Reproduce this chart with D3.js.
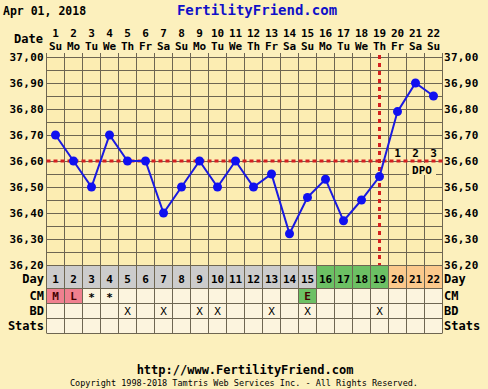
<!DOCTYPE html>
<html><head><meta charset="utf-8">
<script src="https://cdn.jsdelivr.net/npm/d3@7"></script>
<style>
html,body{margin:0;padding:0;background:#fcf0bd;}
svg{display:block;}
text{font-family:"DejaVu Sans Mono",monospace;font-weight:bold;fill:#000;}
</style></head><body>
<svg id="c" width="488" height="389"></svg>
<script>
const days = d3.range(1, 23);
const weekdays = ["Su","Mo","Tu","We","Th","Fr","Sa","Su","Mo","Tu","We","Th","Fr","Sa","Su","Mo","Tu","We","Th","Fr","Sa","Su"];
const temps = [36.70,36.60,36.50,36.70,36.60,36.60,36.40,36.50,36.60,36.50,36.60,36.50,36.55,36.32,36.46,36.53,36.37,36.45,36.54,36.79,36.90,36.85];
const yTicks = [36.20,36.30,36.40,36.50,36.60,36.70,36.80,36.90,37.00];
const dayPhase = ["g","g","g","g","g","g","g","g","g","g","g","g","g","g","g","f","f","f","f","o","o","o"];
const cm = ["M","L","*","*","","","","","","","","","","","E","","","","","","",""];
const cmPhase = ["p","p","","","","","","","","","","","","","f","","","","","","",""];
const bd = ["","","","","X","","X","","X","X","","","X","","X","","","","X","","",""];
const coverline = 36.60;
const ovulationDay = 19;
const dpo = [{day:20,label:"1"},{day:21,label:"2"},{day:22,label:"3"}];
const fill = {g:"#cccccc", f:"#6cc064", o:"#fcc98c", p:"#f0808f", "":"#fcf4de"};

(function(){
const svg = d3.select("#c");
const L = 46.5, colW = 18, T = 57, B = 265;
const x = d3.scaleBand().domain(days).range([L, L + colW*22]);
const y = d3.scaleLinear().domain([36.2, 37.0]).range([B, T]);
const R = L + colW*22;
const grid = "#6e6652";
const fs = 11;

// header
svg.append("text").attr("x",3).attr("y",15).attr("font-size",11.5).text("Apr 01, 2018");
svg.append("text").attr("x",257).attr("y",15).attr("font-size",14).attr("text-anchor","middle").style("fill","#1010c8").text("FertilityFriend.com");
svg.append("text").attr("x",43).attr("y",43).attr("font-size",12).attr("text-anchor","end").text("Date");
svg.selectAll(".dn").data(days).join("text").attr("x",d=>x(d)+colW/2).attr("y",37).attr("font-size",fs).attr("text-anchor","middle").text(d=>d);
svg.selectAll(".wd").data(days).join("text").attr("x",d=>x(d)+colW/2).attr("y",50).attr("font-size",fs).attr("text-anchor","middle").text((d,i)=>weekdays[i]);

// chart area
svg.append("rect").attr("x",L).attr("y",T).attr("width",R-L).attr("height",B-T).attr("fill","#fcedb2");
const minor = d3.range(0, 17).map(i=>36.2 + i*0.05);
svg.selectAll(".hg").data(minor).join("line").attr("x1",L).attr("x2",R).attr("y1",d=>Math.round(y(d))+0.5).attr("y2",d=>Math.round(y(d))+0.5).attr("stroke",grid).attr("stroke-width",1);
svg.selectAll(".vg").data(d3.range(0,23)).join("line").attr("x1",i=>L+i*colW).attr("x2",i=>L+i*colW).attr("y1",T-4).attr("y2",B).attr("stroke",grid).attr("stroke-width",1);
// tick labels
const fmt = d=>d3.format(".2f")(d).replace(".",",");
svg.selectAll(".yl").data(yTicks).join("text").attr("x",44).attr("y",d=>y(d)+4).attr("font-size",fs).attr("text-anchor","end").attr("letter-spacing",0.3).text(fmt);
svg.selectAll(".yr").data(yTicks).join("text").attr("x",444).attr("y",d=>y(d)+4).attr("font-size",fs).attr("text-anchor","start").attr("letter-spacing",0.3).text(fmt);

// DPO labels
svg.selectAll(".dpo").data(dpo).join("text").attr("x",d=>x(d.day)+colW/2).attr("y",y(coverline)-4).attr("font-size",fs).attr("text-anchor","middle").text(d=>d.label);
svg.append("rect").attr("x",409).attr("y",y(coverline)+2).attr("width",27).attr("height",12).attr("fill","#fcedb2");
svg.append("text").attr("x",422).attr("y",y(coverline)+13).attr("font-size",fs).attr("text-anchor","middle").text("DPO");

// coverline & ovulation
svg.append("line").attr("x1",L).attr("x2",R).attr("y1",y(coverline)).attr("y2",y(coverline)).attr("stroke","#d42020").attr("stroke-width",3).attr("stroke-dasharray","4,3");
svg.append("line").attr("x1",x(ovulationDay)+colW/2).attr("x2",x(ovulationDay)+colW/2).attr("y1",T-2).attr("y2",B).attr("stroke","#d42020").attr("stroke-width",3).attr("stroke-dasharray","4,4");

// temperature line
const line = d3.line().x((d,i)=>x(days[i])+colW/2).y(d=>y(d));
svg.append("path").datum(temps).attr("d",line).attr("fill","none").attr("stroke","#1a1ae0").attr("stroke-width",2);
svg.selectAll(".pt").data(temps).join("circle").attr("cx",(d,i)=>x(days[i])+colW/2).attr("cy",d=>y(d)).attr("r",4.5).attr("fill","#1010f0");

// table
const tb = svg.append("g");
days.forEach((d,i)=>{
  tb.append("rect").attr("x",x(d)).attr("y",265).attr("width",colW).attr("height",23).attr("fill",fill[dayPhase[i]]);
  tb.append("rect").attr("x",x(d)).attr("y",288).attr("width",colW).attr("height",15).attr("fill",fill[cmPhase[i]]);
  tb.append("rect").attr("x",x(d)).attr("y",303).attr("width",colW).attr("height",30).attr("fill",fill[""]);
  tb.append("text").attr("x",x(d)+colW/2).attr("y",283).attr("font-size",fs).attr("text-anchor","middle").text(d);
  if(cm[i]) tb.append("text").attr("x",x(d)+colW/2).attr("y",cm[i]==="*"?301:300).attr("font-size",fs).attr("text-anchor","middle").style("fill",cm[i]==="*"?"#000":"#400").text(cm[i]);
  if(bd[i]) tb.append("text").attr("x",x(d)+colW/2).attr("y",315).attr("font-size",fs).attr("text-anchor","middle").style("font-weight","normal").text(bd[i]);
});
[265,288,303,318,333].forEach(v=>tb.append("line").attr("x1",L).attr("x2",R).attr("y1",v+0.5).attr("y2",v+0.5).attr("stroke",grid));
d3.range(0,23).forEach(i=>tb.append("line").attr("x1",L+i*colW).attr("x2",L+i*colW).attr("y1",265).attr("y2",333).attr("stroke",grid));
const rowLabels = [["Day",283],["CM",300],["BD",315],["Stats",330]];
rowLabels.forEach(([t,yy])=>{
  tb.append("text").attr("x",44).attr("y",yy).attr("font-size",12).attr("text-anchor","end").text(t);
  tb.append("text").attr("x",444).attr("y",yy).attr("font-size",12).text(t);
});

// footer
svg.append("text").attr("x",245).attr("y",374).attr("font-size",12).attr("text-anchor","middle").text("http://www.FertilityFriend.com");
svg.append("text").attr("x",244).attr("y",386).attr("font-size",8.5).style("font-weight","normal").attr("text-anchor","middle").text("Copyright 1998-2018 Tamtris Web Services Inc. - All Rights Reserved.");
})();
</script></body></html>
